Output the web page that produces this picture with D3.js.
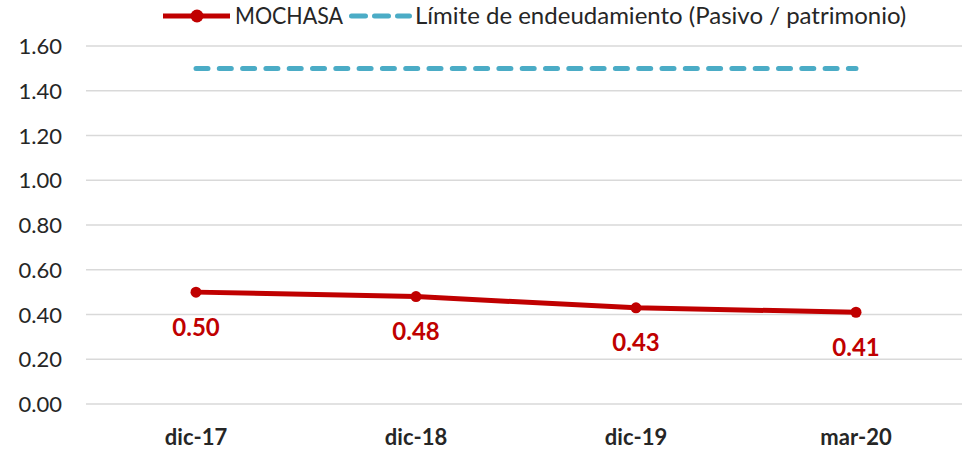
<!DOCTYPE html>
<html><head><meta charset="utf-8">
<script src="https://cdn.jsdelivr.net/npm/d3@7"></script>
<style>body{margin:0;background:#fff}svg{display:block}</style>
</head><body>
<svg id="c" width="962" height="454"></svg>
<script>
const categories = ["dic-17", "dic-18", "dic-19", "mar-20"];
const mochasa = [0.50, 0.48, 0.43, 0.41];
const limite = [1.5, 1.5, 1.5, 1.5];
const yTicks = [0, 0.2, 0.4, 0.6, 0.8, 1.0, 1.2, 1.4, 1.6];
const seriesNames = ["MOCHASA", "Límite de endeudamiento (Pasivo / patrimonio)"];

(function () {
const FONT = "Lato, 'Open Sans', sans-serif";
const svg = d3.select("#c");
const W = 962;
const pLeft = 86, pRight = 966, pTop = 46, pBottom = 404;

const x = d3.scaleBand().domain(categories).range([pLeft, pRight]);
const y = d3.scaleLinear().domain([0, 1.6]).range([pBottom, pTop]);
const cx = d => x(d) + x.bandwidth() / 2;

// gridlines
svg.append("g").selectAll("line").data(yTicks).join("line")
  .attr("x1", pLeft).attr("x2", W)
  .attr("y1", d => y(d)).attr("y2", d => y(d))
  .attr("stroke", "#d9d9d9").attr("stroke-width", 1.5);

// y axis labels
const yAxis = d3.axisLeft(y).tickValues(yTicks).tickFormat(d3.format(".2f")).tickSize(0).tickPadding(0);
const ya = svg.append("g").attr("transform", `translate(62,0)`).call(yAxis);
ya.select(".domain").remove();
ya.selectAll("text").attr("font-family", FONT).attr("font-size", 22).attr("fill", "#262626").attr("dy", "0.35em");

// x axis labels
const xAxis = d3.axisBottom(x).tickSize(0).tickPadding(0);
const xa = svg.append("g").attr("transform", `translate(0,${pBottom + 33})`).call(xAxis);
xa.select(".domain").remove();
xa.selectAll("text").attr("font-family", FONT).attr("font-size", 22).attr("font-weight", "bold").attr("fill", "#262626").attr("dy", "0.35em");

// limit line
svg.append("path").datum(limite.map((v, i) => [cx(categories[i]), y(v)]))
  .attr("d", d3.line()).attr("fill", "none")
  .attr("stroke", "#4BACC6").attr("stroke-width", 5)
  .attr("stroke-dasharray", "12,11.3").attr("stroke-linecap", "round");

// mochasa line
const pts = mochasa.map((v, i) => [cx(categories[i]), y(v)]);
svg.append("path").datum(pts).attr("d", d3.line()).attr("fill", "none")
  .attr("stroke", "#C00000").attr("stroke-width", 5).attr("stroke-linejoin", "round");
svg.append("g").selectAll("circle").data(pts).join("circle")
  .attr("cx", d => d[0]).attr("cy", d => d[1]).attr("r", 5.5).attr("fill", "#C00000");

// data labels
svg.append("g").selectAll("text").data(mochasa).join("text")
  .attr("x", (d, i) => cx(categories[i]))
  .attr("y", d => y(d) + 35)
  .attr("dy", "0.35em")
  .attr("text-anchor", "middle")
  .attr("font-family", FONT).attr("font-size", 24).attr("font-weight", "bold").attr("fill", "#C00000")
  .text(d => d3.format(".2f")(d));

// legend
const lg = svg.append("g").attr("transform", "translate(0,16)");
lg.append("line").attr("x1", 163).attr("x2", 230).attr("y1", 0).attr("y2", 0)
  .attr("stroke", "#C00000").attr("stroke-width", 5);
lg.append("circle").attr("cx", 197).attr("cy", 0).attr("r", 6.5).attr("fill", "#C00000");
lg.append("text").attr("x", 235).attr("y", 0).attr("dy", "0.35em")
  .attr("textLength", 108).attr("lengthAdjust", "spacingAndGlyphs")
  .attr("font-family", FONT).attr("font-size", 24).attr("fill", "#262626").text(seriesNames[0]);
lg.append("line").attr("x1", 351.5).attr("x2", 409.5).attr("y1", 0).attr("y2", 0)
  .attr("stroke", "#4BACC6").attr("stroke-width", 5)
  .attr("stroke-dasharray", "14,9").attr("stroke-linecap", "round");
lg.append("text").attr("x", 415).attr("y", 0).attr("dy", "0.35em")
  .attr("font-family", FONT).attr("font-size", 24).attr("fill", "#262626").text(seriesNames[1]);
})();
</script>
</body></html>
